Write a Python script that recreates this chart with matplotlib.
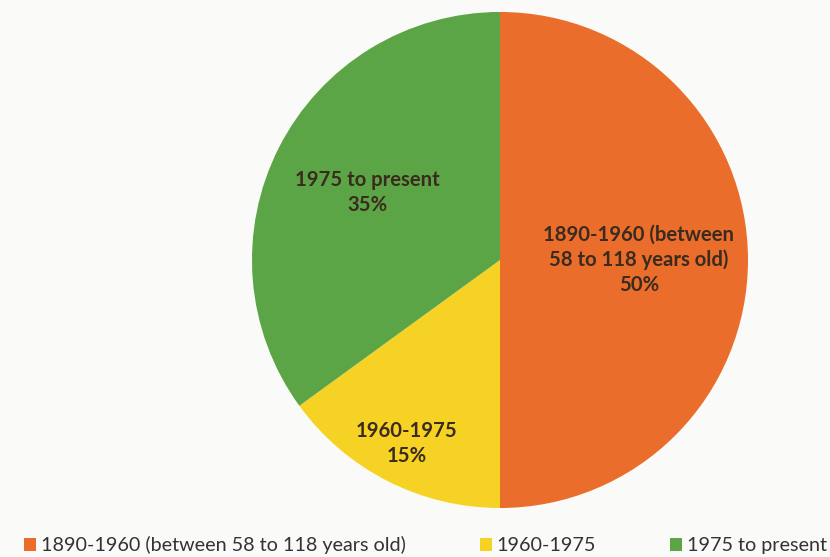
import numpy as np
import matplotlib
matplotlib.use("Agg")
import matplotlib.pyplot as plt
from matplotlib.patches import Patch

# Share of items by period
labels = ["1890-1960 (between 58 to 118 years old)", "1960-1975", "1975 to present"]
inner_labels = ["1890-1960 (between\n58 to 118 years old)", "1960-1975", "1975 to present"]
shares = [50, 15, 35]
colors = ["#EA6D2B", "#F5D224", "#5CA546"]
label_dist = [0.56, 0.83, 0.60]

plt.rcParams["font.family"] = ["Lato", "DejaVu Sans"]

fig = plt.figure(figsize=(8.3, 5.57), dpi=100, facecolor="#FAFAF8")
ax = fig.add_axes([0.3036, 0.088, 0.5976, 0.8905])
ax.set_facecolor("#FAFAF8")

wedges, _ = ax.pie(shares, colors=colors, startangle=90, counterclock=False,
                   radius=1.0, wedgeprops=dict(linewidth=0))
ax.set_xlim(-1, 1)
ax.set_ylim(-1, 1)
ax.set_aspect("equal")

# Category name and percentage inside each slice
for w, name, pct, d in zip(wedges, inner_labels, shares, label_dist):
    mid = np.deg2rad((w.theta1 + w.theta2) / 2)
    ax.text(d * np.cos(mid), d * np.sin(mid), f"{name}\n{pct}%",
            ha="center", va="center", fontsize=14.6, fontweight="bold",
            color="#3B2B1E", linespacing=1.3)

handles = [Patch(facecolor=c, edgecolor="none") for c in colors]
fig.legend(handles, labels, loc="lower left", bbox_to_anchor=(0.008, -0.027),
           ncol=3, frameon=False, fontsize=14.2, handlelength=0.6,
           handleheight=0.6, handletextpad=0.25, columnspacing=3.75,
           labelcolor="#333333")

fig.savefig("out.png", dpi=100, facecolor=fig.get_facecolor())
